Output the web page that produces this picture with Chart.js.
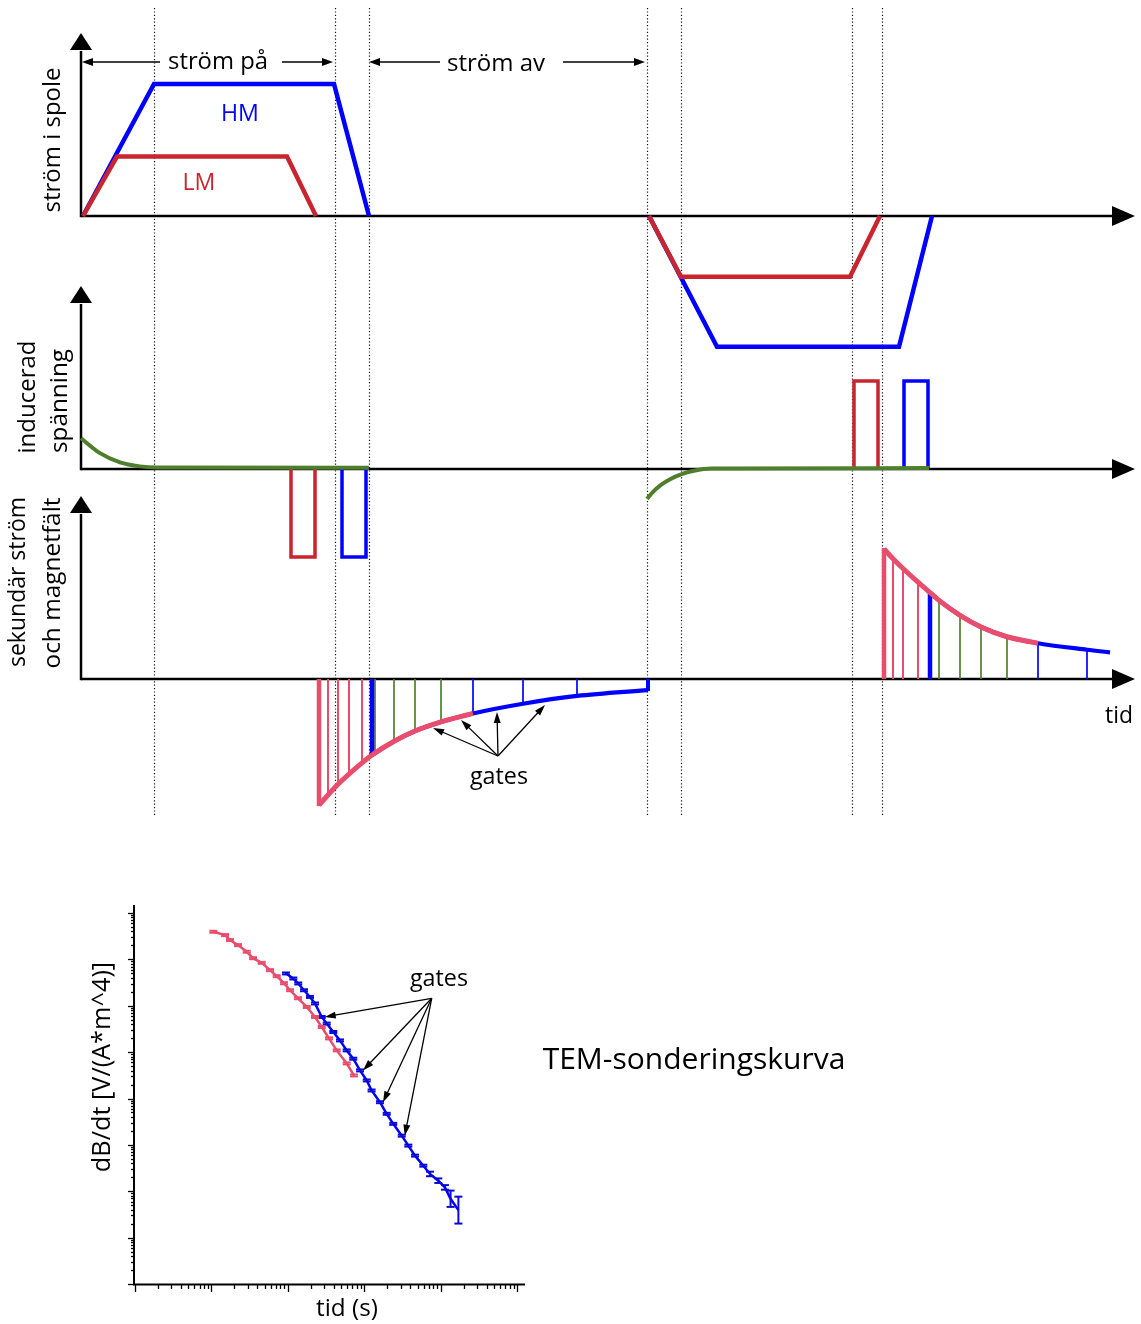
<!DOCTYPE html>
<html>
<head>
<meta charset="utf-8">
<title>TEM-mätning</title>
<style>
    html, body { margin: 0; padding: 0; background: #fff; }
    #wrap { position: relative; width: 1141px; height: 1324px; }
    #pulsChart { position: absolute; left: 0; top: 0; }
    #kurvaChart { position: absolute; left: 0; top: 830px; }
</style>
</head>
<body>
<div id="wrap">
    <canvas id="pulsChart" width="1141" height="830"></canvas>
    <canvas id="kurvaChart" width="1141" height="494"></canvas>
</div>
<script src="https://cdn.jsdelivr.net/npm/chart.js@4"></script>
<script>
// ---- övre figuren, tid i godtyckliga enheter räknat från y-axeln ----
// ström i sändarspolen (normerad mot HM-nivån)
const lmOnT = [2, 36, 206, 235];
const lmOnI = [0, 0.45, 0.45, 0];
const hmOnT = [2, 73, 253, 288];
const hmOnI = [0, 1, 1, 0];
const lmRevT = [568, 600, 769, 799];
const lmRevI = [0, -0.46, -0.46, 0];
const hmRevT = [568, 636, 818, 851];
const hmRevI = [0, -0.99, -0.99, 0];

// inducerad spänning: primärfältet (grönt) och pulserna när strömmen slås av
const primT1 = [0, 19, 39, 59, 76, 288];
const primV1 = [0.35, 0.18, 0.075, 0.03, 0.018, 0.015];
const primT2 = [566, 572, 580, 590, 600, 613, 630, 848];
const primV2 = [-0.34, -0.26, -0.18, -0.11, -0.06, -0.02, 0.005, 0.01];
const lmPulseT = [[210, 234], [773, 797]];
const hmPulseT = [[261, 285], [823, 847]];
const pulseV = [-1, 1];

// sekundärt magnetfält som klingar av
const decay1T = [238, 257, 281, 291, 314, 334, 360, 392, 442, 496, 567];
const decay1B = [-0.97, -0.81, -0.645, -0.585, -0.475, -0.40, -0.33, -0.265, -0.19, -0.13, -0.085];
const decay2T = [803, 812, 822, 837, 849, 858, 879, 900, 926, 957, 1006, 1029];
const decay2B = [1.0, 0.925, 0.85, 0.745, 0.665, 0.605, 0.49, 0.40, 0.325, 0.275, 0.225, 0.205];
const lmEnd = [392, 957];   // sista LM-gaten
const hmBegin = [291, 849]; // första HM-gaten

// gates
const lmGates = [[247, 257, 268, 281], [812, 822, 837]];
const midGates = [[294, 313, 334, 360], [858, 879, 900, 926]];
const hmGates = [[392, 442, 496], [957, 1006]];
const lmStart = [238, 803];
const hmStart = [291, 849];
const offEnd = [567];
const markerT = [73, 254, 288, 566, 600, 771, 801];
const tEnd = 1054;

// ---- TEM-sonderingskurva ----
const lmTime = [1.06e-5, 1.51e-5, 1.75e-5, 2.23e-5, 2.90e-5, 3.51e-5, 4.55e-5, 5.85e-5, 7.16e-5, 8.91e-5,
                1.07e-4, 1.36e-4, 1.77e-4, 2.27e-4, 2.78e-4, 3.46e-4, 4.37e-4, 5.90e-4, 7.34e-4];
const lmDbdt = [3.94e-5, 3.34e-5, 2.61e-5, 2.03e-5, 1.46e-5, 1.06e-5, 8.42e-6, 5.86e-6, 4.34e-6, 3.06e-6,
                2.16e-6, 1.45e-6, 9.42e-7, 5.73e-7, 3.48e-7, 1.98e-7, 1.09e-7, 5.71e-8, 3.14e-8];
const lmErr = [1.05, 1.05, 1.05, 1.05, 1.05, 1.05, 1.05, 1.05, 1.05, 1.05,
               1.05, 1.05, 1.05, 1.05, 1.05, 1.05, 1.05, 1.05, 1.05];
const hmTime = [9.46e-5, 1.18e-4, 1.37e-4, 1.63e-4, 1.95e-4, 2.27e-4, 2.78e-4, 3.23e-4, 3.94e-4, 4.82e-4,
                5.90e-4, 7.19e-4, 8.81e-4, 1.08e-3, 1.25e-3, 1.61e-3, 1.97e-3, 2.40e-3, 3.10e-3, 3.78e-3,
                4.62e-3, 5.94e-3, 7.26e-3, 9.33e-3, 1.14e-2, 1.35e-2, 1.71e-2];
const hmDbdt = [4.97e-6, 3.87e-6, 3.02e-6, 2.16e-6, 1.55e-6, 1.12e-6, 5.73e-7, 4.12e-7, 2.72e-7, 1.79e-7,
                1.09e-7, 7.21e-8, 4.03e-8, 2.45e-8, 1.49e-8, 8.32e-9, 4.67e-9, 2.84e-9, 1.58e-9, 9.64e-10,
                5.86e-10, 3.56e-10, 2.36e-10, 1.69e-10, 1.21e-10, 6.89e-11, 3.92e-11];
const hmErr = [1.05, 1.05, 1.05, 1.05, 1.05, 1.05, 1.05, 1.05, 1.05, 1.05,
               1.05, 1.05, 1.05, 1.05, 1.05, 1.05, 1.05, 1.05, 1.05, 1.05,
               1.05, 1.05, 1.12, 1.12, 1.12, 1.5, 1.95];
const gateArrowIdx = [6, 12, 15, 18];

const RED = '#c9252f', BLUE = '#0000ff', PINK = '#e84d6d', GREEN = '#4f7f2c';
const FONT = '"Open Sans", "Noto Sans", sans-serif';

function pts(T, V) {
    return T.map((t, i) => ({ x: t, y: V[i] }));
}

function pulse(tt, v) {
    return [{ x: tt[0], y: 0 }, { x: tt[0], y: v }, { x: tt[1], y: v }, { x: tt[1], y: 0 }];
}

function valueAt(T, V, t) {
    for (let i = 0; i < T.length - 1; i++) {
        if (t >= T[i] && t <= T[i + 1]) {
            const f = (t - T[i]) / (T[i + 1] - T[i]);
            return V[i] * Math.pow(V[i + 1] / V[i], f);
        }
    }
    return V[V.length - 1];
}

function seg(ctx, x0, y0, x1, y1) {
    ctx.beginPath();
    ctx.moveTo(x0, y0);
    ctx.lineTo(x1, y1);
    ctx.stroke();
}

function head(ctx, x, y, ang, len, half) {
    ctx.save();
    ctx.translate(x, y);
    ctx.rotate(ang);
    ctx.beginPath();
    ctx.moveTo(0, 0);
    ctx.lineTo(-len, -half);
    ctx.lineTo(-len, half);
    ctx.closePath();
    ctx.fill();
    ctx.restore();
}

function arrow(ctx, x0, y0, x1, y1, len, half) {
    const ang = Math.atan2(y1 - y0, x1 - x0);
    seg(ctx, x0, y0, x1 - Math.cos(ang) * len * 0.8, y1 - Math.sin(ang) * len * 0.8);
    head(ctx, x1, y1, ang, len, half);
}

// texten skalas så att den får samma bredd som i förlagan
function label(ctx, txt, cx, cy, w, color, rot) {
    ctx.save();
    ctx.font = '20px ' + FONT;
    const size = 20 * w / ctx.measureText(txt).width;
    ctx.font = size.toFixed(1) + 'px ' + FONT;
    ctx.fillStyle = color;
    ctx.textAlign = 'center';
    ctx.textBaseline = 'middle';
    ctx.translate(cx, cy);
    if (rot) ctx.rotate(-Math.PI / 2);
    ctx.fillText(txt, 0, 0);
    ctx.restore();
}

// y-skalor: var panel får sin nollinje på rätt höjd
const H1 = 830;
function yAxis(base, ppu) {
    return { type: 'linear', display: false, min: -(H1 - base) / ppu, max: base / ppu };
}

const decays = [
    { T: decay1T, V: decay1B },
    { T: decay2T, V: decay2B }
];

const tavla = {
    id: 'tavla',
    beforeDatasetsDraw(chart) {
        const ctx = chart.ctx, x = chart.scales.x;
        const panels = [chart.scales.yI, chart.scales.yU, chart.scales.yB];
        ctx.save();
        ctx.strokeStyle = '#111';
        ctx.lineWidth = 1.2;
        ctx.setLineDash([1.2, 2.2]);
        markerT.forEach(t => {
            const px = Math.round(x.getPixelForValue(t)) + 0.5;
            seg(ctx, px, 8, px, 815);
        });
        ctx.setLineDash([]);

        ctx.strokeStyle = '#000';
        ctx.fillStyle = '#000';
        ctx.lineWidth = 2.5;
        const x0 = x.getPixelForValue(0), xe = x.getPixelForValue(tEnd);
        panels.forEach(s => {
            const y0 = s.getPixelForValue(0);
            seg(ctx, x0, y0, xe - 18, y0);
            head(ctx, xe, y0, 0, 23, 10);
            seg(ctx, x0, y0 + 1.2, x0, y0 - 165);
            head(ctx, x0, y0 - 183, -Math.PI / 2, 17, 11);
        });

        // gates i panelen för sekundärfältet
        const yb = chart.scales.yB;
        const base = yb.getPixelForValue(0);
        const gate = (d, t, color, w) => {
            const v = valueAt(decays[d].T, decays[d].V, t);
            const px = x.getPixelForValue(t);
            const py = yb.getPixelForValue(v);
            ctx.strokeStyle = color;
            ctx.lineWidth = w;
            seg(ctx, px, base, px, py + (v > 0 ? -1 : 1));
        };
        decays.forEach((d, k) => {
            lmGates[k].forEach(t => gate(k, t, PINK, 2));
            midGates[k].forEach(t => gate(k, t, GREEN, 1.7));
            hmGates[k].forEach(t => gate(k, t, BLUE, 1.7));
            gate(k, hmStart[k], BLUE, 4.5);
            gate(k, lmStart[k], PINK, 4.5);
        });
        offEnd.forEach(t => gate(0, t, BLUE, 4));
        ctx.restore();
    },
    afterDatasetsDraw(chart) {
        const ctx = chart.ctx, x = chart.scales.x;
        ctx.save();
        ctx.fillStyle = '#000';
        ctx.strokeStyle = '#000';
        ctx.lineWidth = 1.3;
        const X = t => x.getPixelForValue(t);
        arrow(ctx, X(79), 62, X(1), 62, 11, 4);
        arrow(ctx, X(201), 62, X(252), 62, 11, 4);
        arrow(ctx, X(359), 62, X(288), 62, 11, 4);
        arrow(ctx, X(482), 62, X(564), 62, 11, 4);
        label(ctx, 'ström på', 218, 62, 100, '#000');
        label(ctx, 'ström av', 496, 64, 98, '#000');
        label(ctx, 'HM', 240, 114, 38, BLUE);
        label(ctx, 'LM', 199, 183, 33, RED);
        label(ctx, 'ström i spole', 53, 140, 145, '#000', true);
        label(ctx, 'inducerad', 28, 397, 113, '#000', true);
        label(ctx, 'spänning', 60, 401, 104, '#000', true);
        label(ctx, 'sekundär ström', 18, 582, 170, '#000', true);
        label(ctx, 'och magnetfält', 53, 583, 171, '#000', true);
        label(ctx, 'tid', 1119, 716, 28, '#000');
        label(ctx, 'gates', 499, 777, 58, '#000');
        // pilar från "gates" till kurvan
        [[352, 728], [380, 720], [416, 712], [464, 705]].forEach(p => {
            arrow(ctx, 498, 756, X(p[0]), p[1], 11, 3.5);
        });
        ctx.restore();
    }
};

const lineDs = (data, color, width, axis, order, smooth) => ({
    data: data,
    borderColor: color,
    borderWidth: width,
    yAxisID: axis,
    order: order,
    pointRadius: 0,
    fill: false,
    cubicInterpolationMode: smooth ? 'monotone' : 'default',
    tension: 0
});

const datasets = [
    lineDs(pts(lmOnT, lmOnI), RED, 4.5, 'yI', 1),
    lineDs(pts(hmOnT, hmOnI), BLUE, 4.5, 'yI', 2),
    lineDs(pts(lmRevT, lmRevI), RED, 4.5, 'yI', 1),
    lineDs(pts(hmRevT, hmRevI), BLUE, 4.5, 'yI', 2),
    lineDs(pts(primT1, primV1), GREEN, 4, 'yU', 3, true),
    lineDs(pts(primT2, primV2), GREEN, 4, 'yU', 3, true)
];
[0, 1].forEach(k => {
    datasets.push(lineDs(pulse(lmPulseT[k], pulseV[k]), RED, 3.5, 'yU', 4));
    datasets.push(lineDs(pulse(hmPulseT[k], pulseV[k]), BLUE, 3.5, 'yU', 4));
    const d = decays[k];
    const iL = d.T.indexOf(lmEnd[k]), iH = d.T.indexOf(hmBegin[k]);
    datasets.push(lineDs(pts(d.T.slice(0, iL + 1), d.V.slice(0, iL + 1)), PINK, 5, 'yB', 5, true));
    datasets.push(lineDs(pts(d.T.slice(iH), d.V.slice(iH)), BLUE, 4.2, 'yB', 6, true));
});

new Chart(document.getElementById('pulsChart'), {
    type: 'line',
    data: { datasets: datasets },
    options: {
        responsive: false,
        animation: false,
        devicePixelRatio: 1,
        events: [],
        layout: { padding: 0 },
        plugins: { legend: { display: false }, tooltip: { enabled: false }, title: { display: false } },
        scales: {
            x: { type: 'linear', display: false, min: -81, max: 1060 },
            yI: yAxis(216, 132),
            yU: yAxis(469, 88),
            yB: yAxis(679, 130)
        }
    },
    plugins: [tavla]
});

// ---- log-log-diagrammet ----
const felstaplar = {
    id: 'felstaplar',
    beforeDatasetsDraw(chart) {
        const ctx = chart.ctx, xs = chart.scales.x, ys = chart.scales.y, a = chart.chartArea;
        ctx.save();
        ctx.strokeStyle = '#000';
        ctx.lineWidth = 2;
        seg(ctx, a.left - 1, a.top - 8, a.left - 1, a.bottom + 1);
        seg(ctx, a.left - 2, a.bottom + 0.5, a.right + 8, a.bottom + 0.5);
        ctx.lineWidth = 1.3;
        for (let e = -6; e <= -1; e++) {
            for (let m = 1; m <= 9; m++) {
                const v = m * Math.pow(10, e);
                if (v > xs.max * 1.001) break;
                const px = Math.round(xs.getPixelForValue(v)) + 0.5;
                seg(ctx, px, a.bottom + 1, px, a.bottom + (m === 1 ? 8 : 5));
            }
        }
        for (let e = -12; e <= -4; e++) {
            for (let m = 1; m <= 9; m++) {
                const v = m * Math.pow(10, e);
                if (v > ys.max * 1.001) break;
                const py = Math.round(ys.getPixelForValue(v)) + 0.5;
                seg(ctx, a.left - 1, py, a.left - (m === 1 ? 7 : 4), py);
            }
        }
        ctx.restore();
    },
    afterDatasetsDraw(chart) {
        const ctx = chart.ctx, xs = chart.scales.x, ys = chart.scales.y;
        ctx.save();
        const bars = (T, V, E, color) => {
            ctx.strokeStyle = color;
            ctx.lineWidth = 2;
            T.forEach((t, i) => {
                const px = xs.getPixelForValue(t);
                const hi = ys.getPixelForValue(V[i] * E[i]);
                const lo = ys.getPixelForValue(V[i] / E[i]);
                seg(ctx, px, hi, px, lo);
                seg(ctx, px - 4, hi, px + 4, hi);
                seg(ctx, px - 4, lo, px + 4, lo);
            });
        };
        bars(hmTime, hmDbdt, hmErr, '#0a0ad8');
        bars(lmTime, lmDbdt, lmErr, PINK);

        label(ctx, 'dB/dt [V/(A*m^4)]', 103, 237, 210, '#000', true);
        label(ctx, 'tid (s)', 347, 479, 62, '#000');
        label(ctx, 'gates', 439, 149, 58, '#000');
        label(ctx, 'TEM-sonderingskurva', 694, 230, 303, '#000');
        ctx.fillStyle = '#000';
        ctx.strokeStyle = '#000';
        ctx.lineWidth = 1.3;
        gateArrowIdx.forEach(i => {
            arrow(ctx, 431.7, 168.3, xs.getPixelForValue(hmTime[i]) + 3, ys.getPixelForValue(hmDbdt[i]), 11, 3.5);
        });
        ctx.restore();
    }
};

new Chart(document.getElementById('kurvaChart'), {
    type: 'line',
    data: {
        datasets: [
            { label: 'LM', data: pts(lmTime, lmDbdt), borderColor: PINK, borderWidth: 2.5, pointRadius: 0, order: 0, tension: 0 },
            { label: 'HM', data: pts(hmTime, hmDbdt), borderColor: BLUE, borderWidth: 2.5, pointRadius: 0, order: 1, tension: 0 }
        ]
    },
    options: {
        responsive: false,
        animation: false,
        devicePixelRatio: 1,
        events: [],
        layout: { padding: { left: 135, right: 624, top: 83, bottom: 40 } },
        plugins: { legend: { display: false }, tooltip: { enabled: false } },
        scales: {
            x: { type: 'logarithmic', display: false, min: 1e-6, max: 1e-1 },
            y: { type: 'logarithmic', display: false, min: 1e-12, max: 1e-4 }
        }
    },
    plugins: [felstaplar]
});
</script>
</body>
</html>
